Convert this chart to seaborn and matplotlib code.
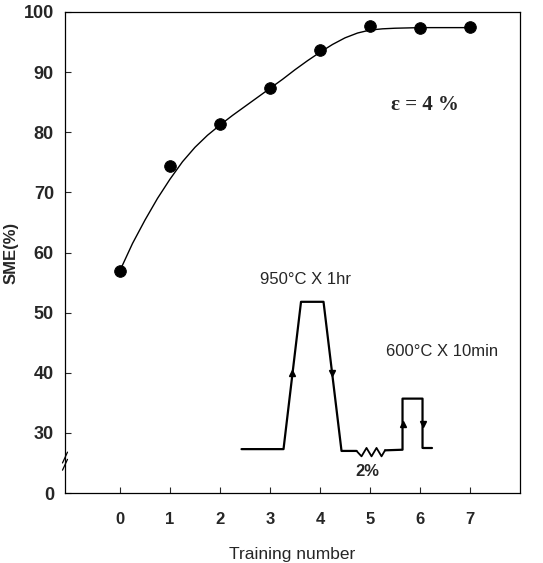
import numpy as np
import pandas as pd
import matplotlib
matplotlib.use('Agg')
import matplotlib.pyplot as plt
import seaborn as sns

# Данные: число тренировок и SME (%)
training = [0, 1, 2, 3, 4, 5, 6, 7]
sme = [57.0, 74.4, 81.3, 87.4, 93.6, 97.7, 97.4, 97.5]

# Сглаженная кривая (шаг 0.25)
curve_x = [0, 0.25, 0.5, 0.75, 1, 1.25, 1.5, 1.75, 2, 2.25, 2.5, 2.75, 3,
           3.25, 3.5, 3.75, 4, 4.25, 4.5, 4.75, 5, 5.25, 5.5, 6, 6.5, 7]
curve_y = [57.0, 61.5, 65.4, 69.0, 72.2, 75.1, 77.5, 79.5, 81.2, 82.8, 84.3, 85.8, 87.3,
           88.8, 90.4, 91.9, 93.3, 94.6, 95.7, 96.5, 97.0, 97.2, 97.3, 97.4, 97.4, 97.4]

# Ось Y с разрывом: 0 рисуется на уровне 20
y_ticks = [0, 30, 40, 50, 60, 70, 80, 90, 100]
x_ticks = [0, 1, 2, 3, 4, 5, 6, 7]

# Схема термообработки (в координатах графика)
sch_x = [2.43, 3.27, 3.62, 4.07, 4.43, 4.73]
sch_y = [27.3, 27.3, 51.8, 51.8, 27.0, 27.0]
zig_x = [4.73, 4.83, 4.93, 5.03, 5.13, 5.23, 5.3]
zig_y = [27.0, 26.1, 27.5, 26.1, 27.5, 26.1, 27.1]
box_x = [5.3, 5.65, 5.65, 6.05, 6.05, 6.23]
box_y = [27.1, 27.2, 35.7, 35.7, 27.5, 27.5]


def to_pos(v):
    return v if v >= 30 else 20 + v * 10 / 30


sns.set_style('ticks')
plt.rcParams['font.family'] = ['Liberation Sans', 'DejaVu Sans']

fig = plt.figure(figsize=(5.43, 5.63), dpi=100)
ax = fig.add_axes([0.1197, 0.1243, 0.838, 0.8544])

df_curve = pd.DataFrame({'x': curve_x, 'y': curve_y})
sns.lineplot(data=df_curve, x='x', y='y', ax=ax, color='black', lw=1.0)
df = pd.DataFrame({'x': training, 'y': sme})
sns.scatterplot(data=df, x='x', y='y', ax=ax, color='black', s=70, edgecolor='black', zorder=5)

# схема
ax.plot(sch_x, sch_y, color='black', lw=1.6)
ax.plot(zig_x, zig_y, color='black', lw=1.3)
ax.plot(box_x[:5], box_y[:5], color='black', lw=1.6)
ax.plot(box_x[4:], box_y[4:], color='black', lw=1.6)
ax.plot([3.44], [40.0], marker='^', color='black', ms=5)
ax.plot([4.24], [40.0], marker='v', color='black', ms=5)
ax.plot([5.65], [31.5], marker='^', color='black', ms=4)
ax.plot([6.05], [31.5], marker='v', color='black', ms=4)

ax.text(3.7, 55.5, '950°C X 1hr', ha='center', va='center', fontsize=12)
ax.text(6.45, 43.5, '600°C X 10min', ha='center', va='center', fontsize=12)
ax.text(4.95, 23.5, '2%', ha='center', va='center', fontsize=12, fontweight='bold')
ax.text(6.1, 84.5, 'ε = 4 %', ha='center', va='center', fontsize=15, fontweight='bold',
        family=['Liberation Serif', 'DejaVu Serif'])

ax.set_xlim(-1.1, 8.0)
ax.set_ylim(20, 100)
ax.set_xticks(x_ticks)
ax.set_xticklabels([str(t) for t in x_ticks], fontsize=12, fontweight='bold')
ax.set_yticks([to_pos(v) for v in y_ticks])
ax.set_yticklabels([str(v) for v in y_ticks], fontsize=13, fontweight='bold')
ax.tick_params(direction='in', length=4, width=0.8, pad=8)
ax.tick_params(axis='x', pad=14)
for sp in ax.spines.values():
    sp.set_visible(True)
    sp.set_linewidth(0.9)
    sp.set_color('black')

# знак разрыва оси
for dy in (0, 1.2):
    ax.plot([-1.15, -1.05], [23.8 + dy, 25.6 + dy], color='black', lw=0.9, clip_on=False)

ax.set_xlabel('Training number', fontsize=12.5, labelpad=14)
ax.set_ylabel('SME(%)', fontsize=12, fontweight='bold', labelpad=4)

fig.savefig('out.png', dpi=100)
